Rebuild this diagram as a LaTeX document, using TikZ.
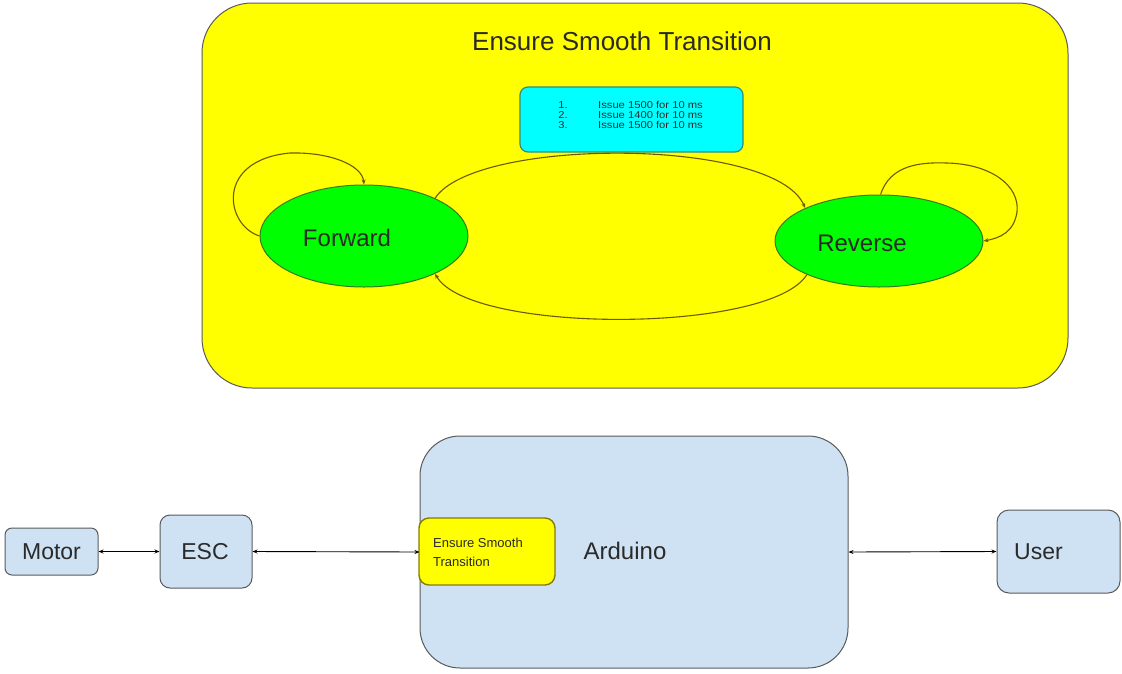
\documentclass[tikz,border=0pt]{standalone}
\usepackage{fontspec}
\setmainfont{Liberation Sans}
\newfontfamily\widefont[FakeStretch=1.12]{Liberation Sans}
\usetikzlibrary{shapes.geometric,arrows.meta}
\definecolor{ylw}{HTML}{FFFF00}
\definecolor{grn}{HTML}{00FF00}
\definecolor{cyn}{HTML}{00FFFF}
\definecolor{lblue}{HTML}{CFE2F3}
\definecolor{bgray}{HTML}{5A5A5A}
\definecolor{olive}{HTML}{6B5A00}
\definecolor{dgreen}{HTML}{3A7A1E}
\definecolor{teal}{HTML}{3A8A7A}
\definecolor{txt}{HTML}{2A2A2A}
\begin{document}
\begin{tikzpicture}[x=1pt,y=-1pt,
  box/.style={draw=bgray,line width=1pt,fill=lblue,rectangle,inner sep=0pt},
  ybox/.style={draw=bgray,line width=1pt,fill=ylw,rectangle,inner sep=0pt},
  statenode/.style={ellipse,draw=dgreen,line width=1pt,fill=grn,inner sep=0pt},
  lbl/.style={text=txt,inner sep=0pt,font=\fontsize{24}{28}\selectfont},
  loopline/.style={draw=olive,line width=1.1pt,-{Stealth[length=5pt,width=4pt]}},
  biarrow/.style={draw=black,line width=0.9pt,{Stealth[length=5pt,width=4pt]}-{Stealth[length=5pt,width=4pt]}}
]
\useasboundingbox (0,0) rectangle (1122,673);
\fill[white] (0,0) rectangle (1122,673);

% upper state diagram
\node[ybox,rounded corners=50pt,minimum width=866,minimum height=385] (ST) at (635,195.5) {};
\node[lbl,font=\fontsize{26}{30}\selectfont] (stt) at (622,41) {Ensure Smooth Transition};
\node[rectangle,draw=teal,line width=1.2pt,fill=cyn,rounded corners=8pt,inner sep=0pt,minimum width=223,minimum height=65] (cy) at (631.5,119.5) {};
\node[text=txt,inner sep=0pt,align=center,font=\widefont\fontsize{10}{10.3}\selectfont] (num) at (563,115) {1.\\2.\\3.};
\node[text=txt,inner sep=0pt,align=left,anchor=west,font=\widefont\fontsize{10}{10.3}\selectfont] (iss) at (598,115) {Issue 1500 for 10 ms\\Issue 1400 for 10 ms\\Issue 1500 for 10 ms};

\node[statenode,minimum width=208,minimum height=102] (F) at (364,236) {};
\node[lbl] (Ft) at (347,238) {Forward};
\node[statenode,minimum width=208,minimum height=92] (R) at (879,241) {};
\node[lbl] (Rt) at (862,243) {Reverse};

\draw[loopline] (F.28) .. controls (475,137) and (775,137) .. (R.156);
\draw[loopline] (R.205) .. controls (770,334) and (470,334) .. (F.332);
\draw[loopline] (F.west) .. controls (225,225) and (215,160) .. (290,153)
   .. controls (330,152) and (362,165) .. (F.north);
\draw[loopline] (R.88) .. controls (890,165) and (920,162) .. (947,163)
   .. controls (990,164) and (1020,185) .. (1017,212)
   .. controls (1014,232) and (1000,238) .. (R.east);

% lower block diagram
\node[box,rounded corners=40pt,minimum width=428,minimum height=232] (Ard) at (634,552) {};
\node[rectangle,draw=olive!80!ylw,line width=1.4pt,fill=ylw,rounded corners=10pt,inner sep=0pt,minimum width=136,minimum height=67] (inner) at (487,551.5) {};
\node[text=txt,inner sep=0pt,align=left,anchor=west,font=\fontsize{13}{19}\selectfont] (innert) at (433,552) {Ensure Smooth\\Transition};
\node[lbl] (Ardt) at (625,551) {Arduino};

\node[box,rounded corners=7pt,minimum width=93,minimum height=47] (Mot) at (51.5,551.5) {};
\node[lbl,font=\fontsize{23}{27}\selectfont] (Mott) at (51.5,551.5) {Motor};
\node[box,rounded corners=10pt,minimum width=92,minimum height=73] (ESC) at (206,551.5) {};
\node[lbl,font=\fontsize{23}{27}\selectfont] (ESCt) at (205,551.5) {ESC};
\node[box,rounded corners=12pt,minimum width=123,minimum height=83] (User) at (1058.5,551.5) {};
\node[lbl,font=\fontsize{23}{27}\selectfont] (Usert) at (1038.5,552) {User};

\draw[biarrow] (Mot.east) -- (ESC.west);
\draw[biarrow] (ESC.east) -- (Ard.west);
\draw[biarrow] (Ard.east) -- (User.west);
\end{tikzpicture}
\end{document}
